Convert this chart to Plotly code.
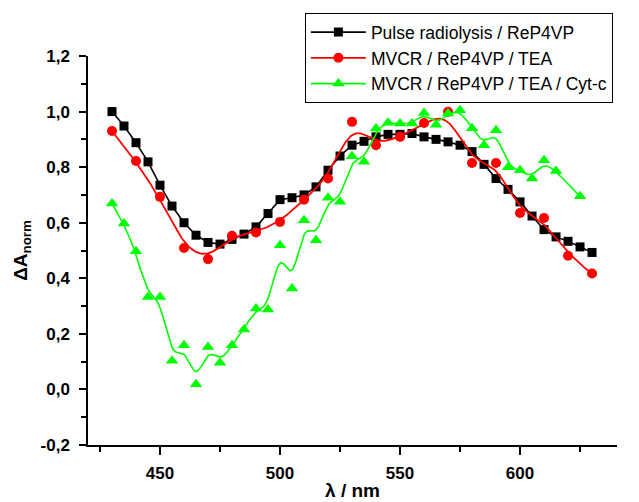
import numpy as np
import plotly.graph_objects as go

# ---- data ----
wl_black = [430, 435, 440, 445, 450, 455, 460, 465, 470, 475, 480, 485, 490, 495, 500,
            505, 510, 515, 520, 525, 530, 535, 540, 545, 550, 555, 560, 565, 570, 575,
            580, 585, 590, 595, 600, 605, 610, 615, 620, 625, 630]
dA_black = [1.00, 0.948, 0.888, 0.819, 0.735, 0.66, 0.60, 0.555, 0.529, 0.523, 0.54, 0.559,
            0.585, 0.633, 0.683, 0.69, 0.70, 0.729, 0.789, 0.84, 0.879, 0.893, 0.909, 0.918,
            0.918, 0.921, 0.909, 0.90, 0.891, 0.879, 0.856, 0.81, 0.759, 0.72, 0.675, 0.624,
            0.575, 0.549, 0.533, 0.513, 0.493]

wl_red = [430, 440, 450, 460, 470, 480, 490, 500, 510, 520, 530, 540, 550, 560, 570,
          580, 590, 600, 610, 620, 630]
dA_red = [0.93, 0.822, 0.693, 0.509, 0.469, 0.553, 0.565, 0.603, 0.683, 0.759, 0.963,
          0.879, 0.909, 0.959, 0.999, 0.815, 0.815, 0.635, 0.617, 0.481, 0.417]

wl_green = [430, 435, 440, 445, 450, 455, 460, 465, 470, 475, 480, 485, 490, 495, 500,
            505, 510, 515, 520, 525, 530, 535, 540, 545, 550, 555, 560, 565, 570, 575,
            580, 585, 590, 595, 600, 605, 610, 615, 625]
dA_green = [0.669, 0.597, 0.497, 0.333, 0.333, 0.103, 0.159, 0.019, 0.153, 0.096, 0.159,
            0.216, 0.291, 0.288, 0.519, 0.363, 0.609, 0.537, 0.69, 0.675, 0.839, 0.819,
            0.939, 0.96, 0.957, 0.957, 0.995, 0.953, 0.993, 1.005, 0.94, 0.879, 0.933,
            0.80, 0.789, 0.759, 0.825, 0.786, 0.695]

names = ["Pulse radiolysis / ReP4VP", "MVCR / ReP4VP / TEA", "MVCR / ReP4VP / TEA / Cyt-c"]

y_tick_vals = [-0.2, 0.0, 0.2, 0.4, 0.6, 0.8, 1.0, 1.2]
y_tick_text = ["-0,2", "0,0", "0,2", "0,4", "0,6", "0,8", "1,0", "1,2"]
y_minor_vals = [-0.1, 0.1, 0.3, 0.5, 0.7, 0.9, 1.1]
x_tick_vals = [450, 500, 550, 600]
x_tick_text = ["450", "500", "550", "600"]
x_minor_vals = [425, 475, 525, 575, 625]


def bspline(xs, ys, samples=600):
    """Clamped uniform cubic B-spline using the data points as control points
    (the 'B-Spline' connect mode of the original plotting software)."""
    P = np.column_stack([xs, ys]).astype(float)
    n = len(P)
    k = 3
    knots = np.concatenate([np.zeros(k), np.arange(0, n - k + 1), np.full(k, n - k)]).astype(float)
    ts = np.linspace(0, n - k, samples)
    out = []
    for t in ts:
        s = min(int(np.searchsorted(knots, t, side="right") - 1), n - 1)
        d = [P[j + s - k].copy() for j in range(k + 1)]
        for r in range(1, k + 1):
            for j in range(k, r - 1, -1):
                i = j + s - k
                den = knots[i + k + 1 - r] - knots[i]
                a = 0.0 if den == 0 else (t - knots[i]) / den
                d[j] = (1 - a) * d[j - 1] + a * d[j]
        out.append(d[k])
    out = np.array(out)
    return out[:, 0], out[:, 1]


FONT = "Arial, 'Liberation Sans', sans-serif"
BLACK, RED, GREEN = "#000000", "#ff0000", "#00ff00"

fig = go.Figure()

# black: straight line segments
fig.add_trace(go.Scatter(x=wl_black, y=dA_black, mode="lines+markers", name=names[0],
                         line=dict(color=BLACK, width=1.6),
                         marker=dict(symbol="square", size=9, color=BLACK)))

# red: B-spline curve + markers
rx, ry = bspline(wl_red, dA_red)
fig.add_trace(go.Scatter(x=rx, y=ry, mode="lines", showlegend=False, hoverinfo="skip",
                         line=dict(color=RED, width=1.8)))
fig.add_trace(go.Scatter(x=wl_red, y=dA_red, mode="markers", showlegend=False,
                         marker=dict(symbol="circle", size=10, color=RED)))
fig.add_trace(go.Scatter(x=[None], y=[None], mode="lines+markers", name=names[1],
                         line=dict(color=RED, width=1.8),
                         marker=dict(symbol="circle", size=10, color=RED)))

# green: B-spline curve + markers
gx, gy = bspline(wl_green, dA_green)
fig.add_trace(go.Scatter(x=gx, y=gy, mode="lines", showlegend=False, hoverinfo="skip",
                         line=dict(color=GREEN, width=1.6)))
fig.add_trace(go.Scatter(x=wl_green, y=dA_green, mode="markers", showlegend=False,
                         marker=dict(symbol="triangle-up", size=11, color=GREEN)))
fig.add_trace(go.Scatter(x=[None], y=[None], mode="lines+markers", name=names[2],
                         line=dict(color=GREEN, width=1.6),
                         marker=dict(symbol="triangle-up", size=11, color=GREEN)))

fig.update_layout(
    width=631, height=494,
    margin=dict(l=80, r=22, t=48, b=57, autoexpand=False),
    paper_bgcolor="white", plot_bgcolor="white",
    font=dict(family=FONT, color="black", size=17),
    showlegend=True,
    legend=dict(x=0.41, y=1.11, xanchor="left", yanchor="top",
                bordercolor="black", borderwidth=1, bgcolor="white",
                font=dict(family=FONT, size=17.5, color="black"),
                itemwidth=55, tracegroupgap=0),
    xaxis=dict(range=[420, 640.4], showline=True, linecolor="black", linewidth=1.5,
               ticks="outside", ticklen=8, tickwidth=1.5, tickcolor="black",
               tickmode="array", tickvals=x_tick_vals,
               ticktext=["<b>%s</b>" % t for t in x_tick_text],
               tickfont=dict(family=FONT, size=17, color="black"),
               ticklabelstandoff=4,
               minor=dict(tickmode="array", tickvals=x_minor_vals, ticks="outside",
                          ticklen=5, tickwidth=1.5, tickcolor="black", showgrid=False),
               showgrid=False, zeroline=False,
               title=dict(text="<b>λ / nm</b>", font=dict(family=FONT, size=19, color="black"),
                          standoff=2)),
    yaxis=dict(range=[-0.2, 1.2], showline=True, linecolor="black", linewidth=1.5,
               ticks="outside", ticklen=7, tickwidth=1.5, tickcolor="black",
               tickmode="array", tickvals=y_tick_vals,
               ticktext=["<b>%s</b>" % t for t in y_tick_text],
               tickfont=dict(family=FONT, size=17, color="black"),
               ticklabelstandoff=6,
               minor=dict(tickmode="array", tickvals=y_minor_vals, ticks="outside",
                          ticklen=5, tickwidth=1.5, tickcolor="black", showgrid=False),
               showgrid=False, zeroline=False,
               title=dict(text="<b>ΔA<sub>norm</sub></b>",
                          font=dict(family=FONT, size=19, color="black"),
                          standoff=8)),
)

fig.write_html("out.html")
